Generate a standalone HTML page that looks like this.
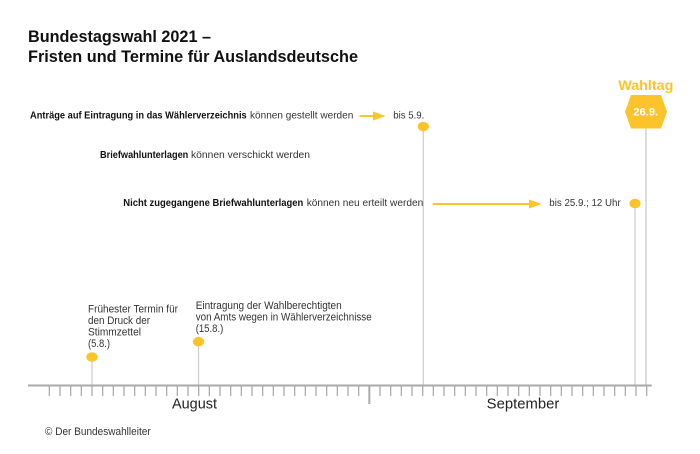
<!DOCTYPE html>
<html>
<head>
<meta charset="utf-8">
<style>
  html, body { margin: 0; padding: 0; background: #ffffff; }
  svg { display: block; }
  text { font-family: "Liberation Sans", "DejaVu Sans", sans-serif; }
</style>
</head>
<body>
<svg width="700" height="454" viewBox="0 0 700 454" xmlns="http://www.w3.org/2000/svg">
  <rect width="700" height="454" fill="#ffffff"/>

  <!-- Title -->
  <text x="28" y="42" font-size="17" font-weight="bold" fill="#111" textLength="183" lengthAdjust="spacingAndGlyphs">Bundestagswahl 2021 –</text>
  <text x="28" y="62" font-size="17" font-weight="bold" fill="#111" textLength="330" lengthAdjust="spacingAndGlyphs">Fristen und Termine für Auslandsdeutsche</text>

  <!-- Vertical event lines -->
  <g stroke="#cfcfcf" stroke-width="1.3">
    <line x1="92" y1="357" x2="92" y2="386"/>
    <line x1="198.5" y1="342" x2="198.5" y2="386"/>
    <line x1="423.3" y1="126" x2="423.3" y2="386"/>
    <line x1="635" y1="203.5" x2="635" y2="386"/>
  </g>
  <line x1="646" y1="128" x2="646" y2="386" stroke="#dcdcdc" stroke-width="2"/>

  <!-- Row 1 -->
  <text x="30" y="118.5" font-size="10.5" font-weight="bold" fill="#111" textLength="216.7" lengthAdjust="spacingAndGlyphs">Anträge auf Eintragung in das Wählerverzeichnis</text>
  <text x="250" y="118.5" font-size="10.5" fill="#333" textLength="103.3" lengthAdjust="spacingAndGlyphs">können gestellt werden</text>
  <line x1="359.5" y1="116" x2="376" y2="116" stroke="#FDC32A" stroke-width="2"/>
  <polygon points="373,111.5 385.5,116 373,120.5" fill="#FDC32A"/>
  <text x="393.3" y="118.5" font-size="10.5" fill="#333" textLength="31" lengthAdjust="spacingAndGlyphs">bis 5.9.</text>
  <ellipse cx="423.3" cy="126.5" rx="5.6" ry="4.8" fill="#FDC32A"/>

  <!-- Row 2 -->
  <text x="100" y="158" font-size="10.5" font-weight="bold" fill="#111" textLength="88.3" lengthAdjust="spacingAndGlyphs">Briefwahlunterlagen</text>
  <text x="191" y="158" font-size="10.5" fill="#333" textLength="119" lengthAdjust="spacingAndGlyphs">können verschickt werden</text>

  <!-- Row 3 -->
  <text x="123.3" y="206" font-size="10.5" font-weight="bold" fill="#111" textLength="180" lengthAdjust="spacingAndGlyphs">Nicht zugegangene Briefwahlunterlagen</text>
  <text x="306.7" y="206" font-size="10.5" fill="#333" textLength="116.6" lengthAdjust="spacingAndGlyphs">können neu erteilt werden</text>
  <line x1="432.7" y1="204" x2="530" y2="204" stroke="#FDC32A" stroke-width="2"/>
  <polygon points="529,199.5 541.7,204 529,208.5" fill="#FDC32A"/>
  <text x="549.3" y="206" font-size="10.5" fill="#333" textLength="71.4" lengthAdjust="spacingAndGlyphs">bis 25.9.; 12 Uhr</text>
  <ellipse cx="635" cy="203.5" rx="5.6" ry="4.8" fill="#FDC32A"/>

  <!-- Wahltag -->
  <text x="618.3" y="90" font-size="14" font-weight="bold" fill="#FDC32A" textLength="55" lengthAdjust="spacingAndGlyphs">Wahltag</text>
  <polygon points="625,111.7 631,95 661,95 667,111.7 661,128.5 631,128.5" fill="#FDC32A"/>
  <text x="633.3" y="115.7" font-size="11" font-weight="bold" fill="#ffffff" textLength="25" lengthAdjust="spacingAndGlyphs">26.9.</text>

  <!-- Bottom-left events -->
  <g font-size="11" fill="#333">
    <text x="88" y="312.5" textLength="90" lengthAdjust="spacingAndGlyphs">Frühester Termin für</text>
    <text x="88" y="324" textLength="62" lengthAdjust="spacingAndGlyphs">den Druck der</text>
    <text x="88" y="335.5" textLength="53" lengthAdjust="spacingAndGlyphs">Stimmzettel</text>
    <text x="88" y="347" textLength="22" lengthAdjust="spacingAndGlyphs">(5.8.)</text>

    <text x="195.7" y="309" textLength="146" lengthAdjust="spacingAndGlyphs">Eintragung der Wahlberechtigten</text>
    <text x="195.7" y="320.5" textLength="176" lengthAdjust="spacingAndGlyphs">von Amts wegen in Wählerverzeichnisse</text>
    <text x="195.7" y="332" textLength="27.6" lengthAdjust="spacingAndGlyphs">(15.8.)</text>
  </g>
  <ellipse cx="92" cy="357" rx="5.6" ry="4.8" fill="#FDC32A"/>
  <ellipse cx="198.5" cy="341.7" rx="5.6" ry="4.8" fill="#FDC32A"/>

  <!-- Axis -->
  <line x1="28" y1="385.5" x2="651.7" y2="385.5" stroke="#aaaaaa" stroke-width="2"/>
  <g stroke="#aaaaaa" stroke-width="1.3">
    <line x1="49.33" y1="386" x2="49.33" y2="396"/>
    <line x1="60" y1="386" x2="60" y2="396"/>
    <line x1="70.67" y1="386" x2="70.67" y2="396"/>
    <line x1="81.33" y1="386" x2="81.33" y2="396"/>
    <line x1="92" y1="386" x2="92" y2="396"/>
    <line x1="102.67" y1="386" x2="102.67" y2="396"/>
    <line x1="113.33" y1="386" x2="113.33" y2="396"/>
    <line x1="124" y1="386" x2="124" y2="396"/>
    <line x1="134.67" y1="386" x2="134.67" y2="396"/>
    <line x1="145.33" y1="386" x2="145.33" y2="396"/>
    <line x1="156" y1="386" x2="156" y2="396"/>
    <line x1="166.67" y1="386" x2="166.67" y2="396"/>
    <line x1="177.33" y1="386" x2="177.33" y2="396"/>
    <line x1="188" y1="386" x2="188" y2="396"/>
    <line x1="198.67" y1="386" x2="198.67" y2="396"/>
    <line x1="209.33" y1="386" x2="209.33" y2="396"/>
    <line x1="220" y1="386" x2="220" y2="396"/>
    <line x1="230.67" y1="386" x2="230.67" y2="396"/>
    <line x1="241.33" y1="386" x2="241.33" y2="396"/>
    <line x1="252" y1="386" x2="252" y2="396"/>
    <line x1="262.67" y1="386" x2="262.67" y2="396"/>
    <line x1="273.33" y1="386" x2="273.33" y2="396"/>
    <line x1="284" y1="386" x2="284" y2="396"/>
    <line x1="294.67" y1="386" x2="294.67" y2="396"/>
    <line x1="305.33" y1="386" x2="305.33" y2="396"/>
    <line x1="316" y1="386" x2="316" y2="396"/>
    <line x1="326.67" y1="386" x2="326.67" y2="396"/>
    <line x1="337.33" y1="386" x2="337.33" y2="396"/>
    <line x1="348" y1="386" x2="348" y2="396"/>
    <line x1="358.67" y1="386" x2="358.67" y2="396"/>
    <line x1="369.33" y1="386" x2="369.33" y2="404" stroke-width="2"/>
    <line x1="380" y1="386" x2="380" y2="396"/>
    <line x1="390.67" y1="386" x2="390.67" y2="396"/>
    <line x1="401.33" y1="386" x2="401.33" y2="396"/>
    <line x1="412" y1="386" x2="412" y2="396"/>
    <line x1="422.67" y1="386" x2="422.67" y2="396"/>
    <line x1="433.33" y1="386" x2="433.33" y2="396"/>
    <line x1="444" y1="386" x2="444" y2="396"/>
    <line x1="454.67" y1="386" x2="454.67" y2="396"/>
    <line x1="465.33" y1="386" x2="465.33" y2="396"/>
    <line x1="476" y1="386" x2="476" y2="396"/>
    <line x1="486.67" y1="386" x2="486.67" y2="396"/>
    <line x1="497.33" y1="386" x2="497.33" y2="396"/>
    <line x1="508" y1="386" x2="508" y2="396"/>
    <line x1="518.67" y1="386" x2="518.67" y2="396"/>
    <line x1="529.33" y1="386" x2="529.33" y2="396"/>
    <line x1="540" y1="386" x2="540" y2="396"/>
    <line x1="550.67" y1="386" x2="550.67" y2="396"/>
    <line x1="561.33" y1="386" x2="561.33" y2="396"/>
    <line x1="572" y1="386" x2="572" y2="396"/>
    <line x1="582.67" y1="386" x2="582.67" y2="396"/>
    <line x1="593.33" y1="386" x2="593.33" y2="396"/>
    <line x1="604" y1="386" x2="604" y2="396"/>
    <line x1="614.67" y1="386" x2="614.67" y2="396"/>
    <line x1="625.33" y1="386" x2="625.33" y2="396"/>
    <line x1="636" y1="386" x2="636" y2="396"/>
    <line x1="646.67" y1="386" x2="646.67" y2="396"/>
  </g>

  <text x="172" y="408.5" font-size="14.5" fill="#222" textLength="45" lengthAdjust="spacingAndGlyphs">August</text>
  <text x="486.7" y="408.5" font-size="14.5" fill="#222" textLength="72.6" lengthAdjust="spacingAndGlyphs">September</text>

  <!-- Source -->
  <text x="45" y="435" font-size="11" fill="#333" textLength="105.7" lengthAdjust="spacingAndGlyphs">© Der Bundeswahlleiter</text>
</svg>
</body>
</html>
